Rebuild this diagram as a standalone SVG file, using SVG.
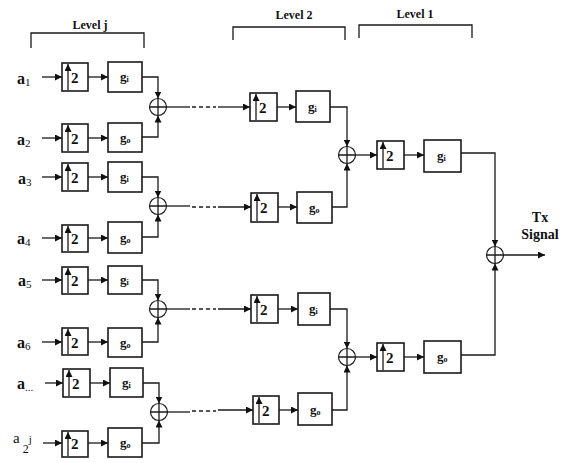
<svg xmlns="http://www.w3.org/2000/svg" width="565" height="463" viewBox="0 0 565 463">
<defs>
<marker id="ah" viewBox="0 0 10 10" refX="10" refY="5" markerWidth="7" markerHeight="7" markerUnits="userSpaceOnUse" orient="auto"><path d="M0,0 L10,5 L0,10 z" fill="#111"/></marker>
</defs>
<style>
.box{fill:#fff;stroke:#1a1a1a;stroke-width:1.6}
.sum{fill:#fff;stroke:#1a1a1a;stroke-width:1.2}
.ln{fill:none;stroke:#1a1a1a;stroke-width:1.3}
.ar{fill:none;stroke:#1a1a1a;stroke-width:1.3;marker-end:url(#ah)}
.dash{fill:none;stroke:#1a1a1a;stroke-width:1.3;stroke-dasharray:4,3}
.two{font-family:"Liberation Serif","DejaVu Serif",serif;font-weight:bold;font-size:15px;fill:#111}
.g{font-family:"Liberation Serif","DejaVu Serif",serif;font-weight:bold;font-size:13px;fill:#111}
.sub{font-size:8px}
.lbl{font-family:"Liberation Serif","DejaVu Serif",serif;font-weight:bold;font-size:16px;fill:#111}
.lsub{font-family:"Liberation Serif","DejaVu Serif",serif;font-weight:normal;font-size:11px}
.lvl{font-family:"Liberation Serif","DejaVu Serif",serif;font-weight:bold;font-size:12px;fill:#111}
.tx{font-family:"Liberation Serif","DejaVu Serif",serif;font-weight:bold;font-size:14px;fill:#111}
</style>

<g id="brackets">
<path class="ln" d="M31,48 V33 H144 V48"/>
<text class="lvl" x="90" y="29" text-anchor="middle">Level  j</text>
<path class="ln" d="M233,40 V27 H345 V40"/>
<text class="lvl" x="294" y="19" text-anchor="middle">Level  2</text>
<path class="ln" d="M359,38 V25 H472 V38"/>
<text class="lvl" x="415" y="18" text-anchor="middle">Level  1</text>
</g>

<g id="labels">
<text class="lbl" x="17" y="84">a<tspan class="lsub" dy="2">1</tspan></text>
<text class="lbl" x="17" y="145">a<tspan class="lsub" dy="2">2</tspan></text>
<text class="lbl" x="18" y="184">a<tspan class="lsub" dy="2">3</tspan></text>
<text class="lbl" x="17" y="244">a<tspan class="lsub" dy="2">4</tspan></text>
<text class="lbl" x="18" y="286">a<tspan class="lsub" dy="2">5</tspan></text>
<text class="lbl" x="17" y="348">a<tspan class="lsub" dy="2">6</tspan></text>
<text class="lbl" x="17" y="389">a<tspan class="lsub" dy="2">...</tspan></text>
<text x="13" y="443" style="font-family:'Liberation Serif',serif;font-size:15px;fill:#111">a<tspan font-size="12" dx="3" dy="10">2</tspan><tspan font-size="11" dy="-10">j</tspan></text>
<text class="tx" x="540" y="222" text-anchor="middle">Tx</text>
<text class="tx" x="540" y="239" text-anchor="middle">Signal</text>
</g>

<!-- Level j -->
<g id="u1"><rect class="box" x="62" y="63" width="26" height="28"/><path class="ar" d="M68,90 V64"/><text class="two" x="71" y="83">2</text></g>
<g id="g1"><rect class="box" x="108" y="62" width="34" height="30"/><text class="g" x="120" y="81">g<tspan class="sub" dy="1">i</tspan></text></g>
<g id="u2"><rect class="box" x="62" y="124" width="26" height="28"/><path class="ar" d="M68,151 V125"/><text class="two" x="71" y="144">2</text></g>
<g id="g2"><rect class="box" x="108" y="123" width="34" height="29"/><text class="g" x="120" y="142">g<tspan class="sub" dy="1">o</tspan></text></g>
<g id="u3"><rect class="box" x="62" y="163" width="26" height="28"/><path class="ar" d="M68,190 V164"/><text class="two" x="71" y="183">2</text></g>
<g id="g3"><rect class="box" x="108" y="162" width="34" height="30"/><text class="g" x="120" y="181">g<tspan class="sub" dy="1">i</tspan></text></g>
<g id="u4"><rect class="box" x="62" y="225" width="26" height="27"/><path class="ar" d="M68,251 V226"/><text class="two" x="71" y="244">2</text></g>
<g id="g4"><rect class="box" x="108" y="222" width="34" height="31"/><text class="g" x="120" y="242">g<tspan class="sub" dy="1">o</tspan></text></g>
<g id="u5"><rect class="box" x="62" y="267" width="26" height="27"/><path class="ar" d="M68,293 V268"/><text class="two" x="71" y="286">2</text></g>
<g id="g5"><rect class="box" x="108" y="266" width="34" height="28"/><text class="g" x="120" y="284">g<tspan class="sub" dy="1">i</tspan></text></g>
<g id="u6"><rect class="box" x="62" y="328" width="26" height="27"/><path class="ar" d="M68,354 V329"/><text class="two" x="71" y="348">2</text></g>
<g id="g6"><rect class="box" x="108" y="328" width="34" height="29"/><text class="g" x="120" y="347">g<tspan class="sub" dy="1">o</tspan></text></g>
<g id="u7"><rect class="box" x="63" y="369" width="27" height="28"/><path class="ar" d="M69,396 V370"/><text class="two" x="72" y="389">2</text></g>
<g id="g7"><rect class="box" x="110" y="368" width="33" height="29"/><text class="g" x="122" y="387">g<tspan class="sub" dy="1">i</tspan></text></g>
<g id="u8"><rect class="box" x="62" y="431" width="26" height="26"/><path class="ar" d="M68,456 V432"/><text class="two" x="71" y="449">2</text></g>
<g id="g8"><rect class="box" x="108" y="428" width="34" height="29"/><text class="g" x="120" y="447">g<tspan class="sub" dy="1">o</tspan></text></g>

<g id="s1"><circle class="sum" cx="158" cy="107" r="8.5"/><path class="ln" d="M150,107 H166 M158,99 V115"/></g>
<g id="s2"><circle class="sum" cx="158" cy="206" r="8.5"/><path class="ln" d="M150,206 H166 M158,198 V214"/></g>
<g id="s3"><circle class="sum" cx="158" cy="309" r="8.5"/><path class="ln" d="M150,309 H166 M158,301 V317"/></g>
<g id="s4"><circle class="sum" cx="159" cy="412" r="8.5"/><path class="ln" d="M151,412 H167 M159,404 V420"/></g>

<!-- Level 2 -->
<g id="u9"><rect class="box" x="250" y="93" width="27" height="28"/><path class="ar" d="M256,120 V94"/><text class="two" x="259" y="113">2</text></g>
<g id="g9"><rect class="box" x="296" y="91" width="34" height="31"/><text class="g" x="308" y="111">g<tspan class="sub" dy="1">i</tspan></text></g>
<g id="u10"><rect class="box" x="251" y="193" width="27" height="29"/><path class="ar" d="M257,221 V194"/><text class="two" x="260" y="213">2</text></g>
<g id="g10"><rect class="box" x="297" y="192" width="35" height="31"/><text class="g" x="309" y="212">g<tspan class="sub" dy="1">o</tspan></text></g>
<g id="u11"><rect class="box" x="251" y="295" width="27" height="28"/><path class="ar" d="M257,322 V296"/><text class="two" x="260" y="315">2</text></g>
<g id="g11"><rect class="box" x="298" y="293" width="32" height="32"/><text class="g" x="309" y="313">g<tspan class="sub" dy="1">i</tspan></text></g>
<g id="u12"><rect class="box" x="253" y="396" width="26" height="28"/><path class="ar" d="M259,423 V397"/><text class="two" x="262" y="416">2</text></g>
<g id="g12"><rect class="box" x="298" y="393" width="34" height="32"/><text class="g" x="310" y="414">g<tspan class="sub" dy="1">o</tspan></text></g>
<g id="s5"><circle class="sum" cx="347" cy="155" r="8.5"/><path class="ln" d="M339,155 H355 M347,147 V163"/></g>
<g id="s6"><circle class="sum" cx="347" cy="357" r="8.5"/><path class="ln" d="M339,357 H355 M347,349 V365"/></g>

<!-- Level 1 -->
<g id="u13"><rect class="box" x="377" y="141" width="27" height="28"/><path class="ar" d="M383,168 V142"/><text class="two" x="386" y="161">2</text></g>
<g id="g13"><rect class="box" x="424" y="140" width="37" height="32"/><text class="g" x="437" y="160">g<tspan class="sub" dy="1">i</tspan></text></g>
<g id="u14"><rect class="box" x="377" y="343" width="27" height="28"/><path class="ar" d="M383,370 V344"/><text class="two" x="386" y="363">2</text></g>
<g id="g14"><rect class="box" x="424" y="341" width="37" height="32"/><text class="g" x="437" y="361">g<tspan class="sub" dy="1">o</tspan></text></g>
<g id="s7"><circle class="sum" cx="495" cy="255" r="8.5"/><path class="ln" d="M487,255 H503 M495,247 V263"/></g>

<g id="connectors">
<path class="ar" d="M42,77 H62"/>
<path class="ar" d="M42,138 H62"/>
<path class="ar" d="M42,177 H62"/>
<path class="ar" d="M42,238 H62"/>
<path class="ar" d="M42,280 H62"/>
<path class="ar" d="M42,342 H62"/>
<path class="ar" d="M45,383 H63"/>
<path class="ar" d="M43,443 H62"/>
<path class="ar" d="M88,77 H108"/>
<path class="ar" d="M88,138 H108"/>
<path class="ar" d="M88,177 H108"/>
<path class="ar" d="M88,238 H108"/>
<path class="ar" d="M88,280 H108"/>
<path class="ar" d="M88,342 H108"/>
<path class="ar" d="M90,383 H110"/>
<path class="ar" d="M88,443 H108"/>
<path class="ar" d="M142,77 H158 V98.5"/>
<path class="ar" d="M142,137 H158 V115.5"/>
<path class="ar" d="M142,177 H158 V197.5"/>
<path class="ar" d="M142,237 H158 V214.5"/>
<path class="ar" d="M142,280 H158 V300.5"/>
<path class="ar" d="M142,342 H158 V317.5"/>
<path class="ar" d="M143,383 H159 V403.5"/>
<path class="ar" d="M142,443 H159 V420.5"/>
<path class="ln" d="M166.5,107 H190"/><path class="dash" d="M192,107 H216"/><path class="ar" d="M218,107 H250"/>
<path class="ln" d="M166.5,206 H190"/><path class="dash" d="M192,207 H216"/><path class="ar" d="M218,207 H251"/>
<path class="ln" d="M166.5,309 H190"/><path class="dash" d="M192,309 H216"/><path class="ar" d="M218,309 H251"/>
<path class="ln" d="M167.5,412 H190"/><path class="dash" d="M192,411 H216"/><path class="ar" d="M218,410 H253"/>
<path class="ar" d="M277,107 H296"/>
<path class="ar" d="M278,207 H297"/>
<path class="ar" d="M278,309 H298"/>
<path class="ar" d="M279,410 H298"/>
<path class="ar" d="M330,107 H347 V146.5"/>
<path class="ar" d="M332,207 H347 V163.5"/>
<path class="ar" d="M330,309 H347 V348.5"/>
<path class="ar" d="M332,410 H347 V365.5"/>
<path class="ar" d="M355.5,155 H377"/>
<path class="ar" d="M355.5,357 H377"/>
<path class="ar" d="M404,155 H424"/>
<path class="ar" d="M404,357 H424"/>
<path class="ar" d="M461,153 H495 V246.5"/>
<path class="ar" d="M461,355 H495 V263.5"/>
<path class="ar" d="M503.5,255 H545"/>
</g>
</svg>
